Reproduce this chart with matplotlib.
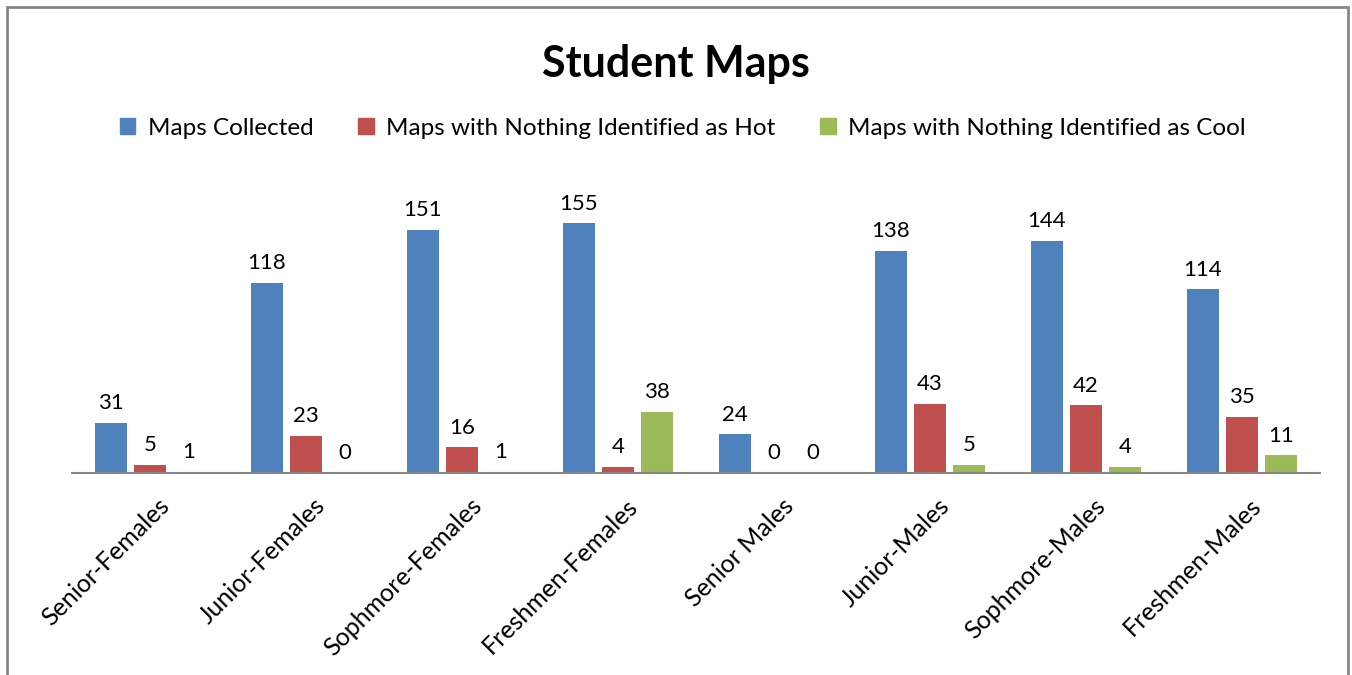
import numpy as np
import matplotlib.pyplot as plt
from matplotlib.patches import Rectangle, Patch

categories = ['Senior-Females', 'Junior-Females', 'Sophmore-Females', 'Freshmen-Females',
              'Senior Males', 'Junior-Males', 'Sophmore-Males', 'Freshmen-Males']
maps_collected = [31, 118, 151, 155, 24, 138, 144, 114]
nothing_hot = [5, 23, 16, 4, 0, 43, 42, 35]
nothing_cool = [1, 0, 1, 38, 0, 5, 4, 11]

series = [
    ('Maps Collected', maps_collected, '#4F81BD'),
    ('Maps with Nothing Identified as Hot', nothing_hot, '#C0504D'),
    ('Maps with Nothing Identified as Cool', nothing_cool, '#9BBB59'),
]

plt.rcParams['font.family'] = ['Lato', 'DejaVu Sans']

fig = plt.figure(figsize=(13.52, 6.75), dpi=100)
ax = fig.add_axes([0.0533, 0.299, 0.9228, 0.430])

x = np.arange(len(categories))
width = 0.205
step = 0.25
for i, (name, vals, color) in enumerate(series):
    pos = x + (i - 1) * step
    bars = ax.bar(pos, vals, width, color=color, label=name)
    for b, v in zip(bars, vals):
        ax.annotate(str(v), (b.get_x() + b.get_width() / 2, v),
                    xytext=(0, 7), textcoords='offset points',
                    ha='center', va='bottom', fontsize=16)

ax.set_xlim(-0.5, len(categories) - 0.5)
ax.set_ylim(0, 180)
ax.set_yticks([])
for s in ['top', 'right', 'left']:
    ax.spines[s].set_visible(False)
ax.spines['bottom'].set_color('#868686')
ax.spines['bottom'].set_linewidth(1.5)
ax.set_xticks(x + 0.05)
ax.set_xticklabels(categories, rotation=45, ha='right', rotation_mode='anchor', fontsize=18)
ax.tick_params(axis='x', length=0, pad=15)

fig.suptitle('Student Maps', fontsize=31, fontweight='bold', y=0.935)

handles = [Patch(color=c) for _, _, c in series]
fig.legend(handles, [n for n, _, _ in series], loc='center', ncol=3,
           bbox_to_anchor=(0.505, 0.81), frameon=False, fontsize=17.5,
           handlelength=0.65, handleheight=0.65, handletextpad=0.5, columnspacing=1.85)

fig.patches.append(Rectangle((7 / 1352, -0.05), 1341 / 1352, 1.0 - 7 / 675 + 0.05,
                             transform=fig.transFigure, fill=False,
                             edgecolor='#868686', linewidth=2))

fig.savefig('out.png', dpi=100)
